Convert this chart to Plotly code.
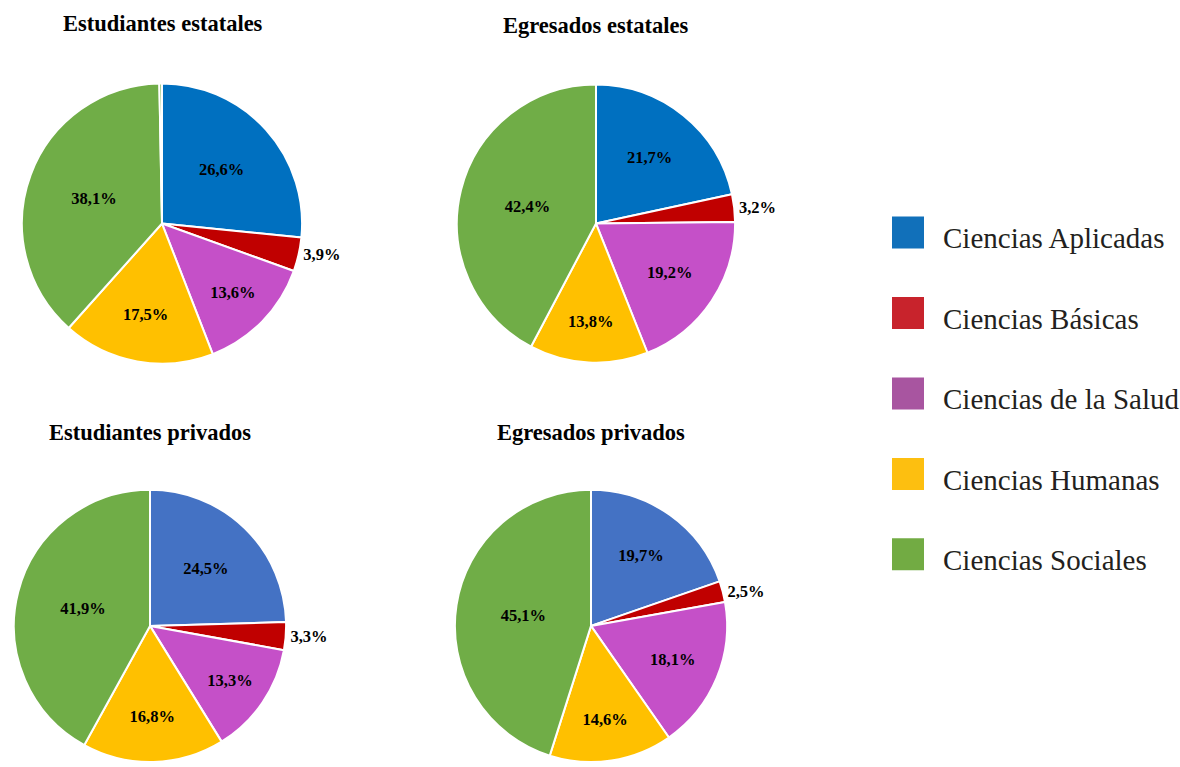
import plotly.graph_objects as go

# Knowledge areas (clockwise from 12 o'clock)
areas = ["Ciencias Aplicadas", "Ciencias Básicas", "Ciencias de la Salud",
         "Ciencias Humanas", "Ciencias Sociales"]

# Percentages per group
est_estatales = [26.6, 3.9, 13.6, 17.5, 38.1]
est_estatales_otros = 0.3          # thin unlabeled remainder
egr_estatales = [21.7, 3.2, 19.2, 13.8, 42.4]
est_privados = [24.5, 3.3, 13.3, 16.8, 41.9]
egr_privados = [19.7, 2.5, 18.1, 14.6, 45.1]

titles = ["Estudiantes estatales", "Egresados estatales",
          "Estudiantes privados", "Egresados privados"]

# Slice colours
colors_estatal = ["#0070C0", "#C00000", "#C550C8", "#FFC000", "#70AD47"]
colors_privado = ["#4472C4", "#C00000", "#C550C8", "#FFC000", "#70AD47"]
legend_colors = ["#1170BA", "#C8232C", "#A855A0", "#FDBF10", "#72AB43"]

SERIF = "Liberation Serif, Times New Roman, serif"
W, H = 1180, 767


def px_domain(cx, cy, r):
    return dict(x=[(cx - r) / W, (cx + r) / W],
                y=[max(0.0, 1 - (cy + r) / H), min(1.0, 1 - (cy - r) / H)])


def positions(vals):
    return ["outside" if v < 5 else "inside" for v in vals]


label_font = dict(family=SERIF, size=16.5, color="black", weight="bold")

pies = [
    (areas + ["Otros"], est_estatales + [est_estatales_otros],
     colors_estatal + ["#70AD47"], px_domain(162, 225, 141),
     positions(est_estatales) + ["none"]),
    (areas, egr_estatales, colors_estatal, px_domain(596, 225, 140),
     positions(egr_estatales)),
    (areas, est_privados, colors_privado, px_domain(150, 630, 137),
     positions(est_privados)),
    (areas, egr_privados, colors_privado, px_domain(591, 630, 137),
     positions(egr_privados)),
]

fig = go.Figure()
for labels, vals, cols, dom, tpos in pies:
    fig.add_trace(go.Pie(
        labels=labels, values=vals, sort=False, direction="clockwise",
        rotation=0, domain=dom, showlegend=False,
        marker=dict(colors=cols, line=dict(color="white", width=2)),
        texttemplate="%{value:.1f}%", textposition=tpos,
        insidetextorientation="horizontal",
        textfont=label_font, insidetextfont=label_font,
        outsidetextfont=label_font, hoverinfo="label+value",
    ))

# Legend drawn on its own category axis
fig.add_trace(go.Scatter(
    x=[0] * len(areas), y=areas, mode="markers", showlegend=False,
    marker=dict(symbol="square", size=32, color=legend_colors),
    xaxis="x", yaxis="y", hoverinfo="skip",
))

annotations = []
for a in areas:
    annotations.append(dict(
        x=33, y=a, xref="x", yref="y", text=a, showarrow=False,
        xanchor="left", yanchor="middle", yshift=-6,
        font=dict(family=SERIF, size=29, color="#231F20"),
    ))

title_pos = [(163, 24), (595, 26), (150, 435), (591, 435)]
for t, (tx, ty) in zip(titles, title_pos):
    annotations.append(dict(
        x=tx / W, y=1 - ty / H, xref="paper", yref="paper", text=t,
        showarrow=False, xanchor="center", yanchor="middle",
        font=dict(family=SERIF, size=22.5, color="black", weight="bold"),
    ))

fig.update_layout(
    width=W, height=H, margin=dict(l=0, r=0, t=0, b=0),
    paper_bgcolor="white", plot_bgcolor="white",
    separators=",.",
    font=dict(family=SERIF),
    xaxis=dict(domain=[892 / W, 1], range=[-16, 272], visible=False, fixedrange=True),
    yaxis=dict(domain=[1 - 598.5 / H, 1 - 193.5 / H], type="category",
               categoryorder="array", categoryarray=areas,
               range=[len(areas) - 0.5, -0.5], visible=False, fixedrange=True),
    annotations=annotations,
)

fig.write_html("out.html")
